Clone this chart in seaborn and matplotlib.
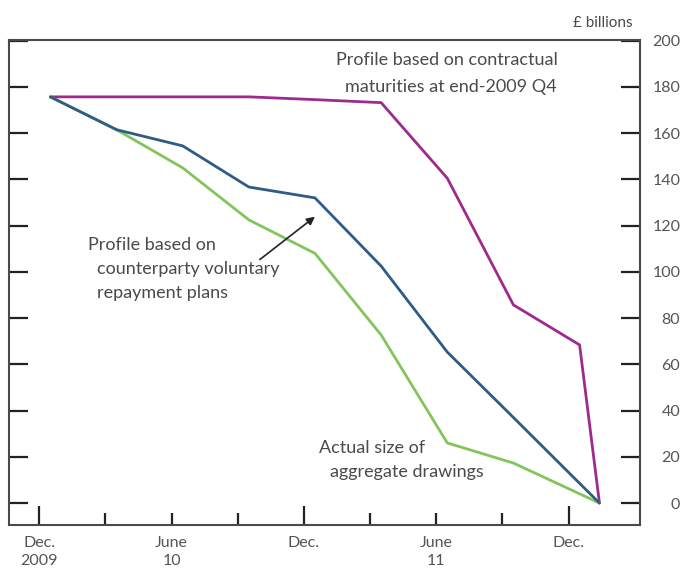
import pandas as pd
import matplotlib
matplotlib.use("Agg")
import matplotlib.pyplot as plt
import seaborn as sns
from matplotlib.ticker import FixedLocator, FixedFormatter

# Months after Dec. 2009 (quarterly points, then run-off)
months_contractual = [0.5, 3.5, 6.5, 9.5, 12.5, 15.5, 18.5, 21.5, 24.5, 25.4]
contractual = [175.7, 175.7, 175.7, 175.7, 174.5, 173.2, 140.5, 85.7, 68.4, 0]

months_other = [0.5, 3.5, 6.5, 9.5, 12.5, 15.5, 18.5, 21.5, 25.4]
voluntary = [175.7, 161.5, 154.5, 136.7, 132.0, 102.5, 65.3, 37.0, 0]
actual = [175.7, 161.5, 145.0, 122.5, 108.0, 72.7, 26.0, 17.3, 0]

x_major = [0, 12, 24]
x_major_labels = ["Dec.\n2009", "Dec.", "Dec."]
x_minor = [3, 6, 9, 15, 18, 21]
x_minor_labels = ["", "June\n10", "", "", "June\n11", ""]
y_ticks = list(range(0, 201, 20))

sns.set_style("ticks")
plt.rcParams['font.family'] = ['Lato', 'DejaVu Sans']

fig = plt.figure(figsize=(6.84, 5.77), dpi=100)
ax = fig.add_axes([0.0127, 0.0901, 0.9230, 0.8406])

# ----------------------------
# Lines
# ----------------------------
sns.lineplot(x=months_contractual, y=contractual, color='#9E2A8E', linewidth=2.0, ax=ax)
sns.lineplot(x=months_other, y=actual, color='#82C55A', linewidth=2.0, ax=ax)
sns.lineplot(x=months_other, y=voluntary, color='#2E5C86', linewidth=2.0, ax=ax)

ax.set_xlim(-1.39, 27.24)
ax.set_ylim(-9.5, 200.3)

# ----------------------------
# Axes styling
# ----------------------------
for side in ['left', 'right', 'top', 'bottom']:
    ax.spines[side].set_visible(True)
    ax.spines[side].set_color('#4a4a4a')
    ax.spines[side].set_linewidth(1.5)

ax.yaxis.set_major_locator(FixedLocator(y_ticks))
ax.yaxis.tick_right()
ax.tick_params(axis='y', which='major', direction='in', length=14, width=1.6,
               color='#222222', left=True, right=True, labelleft=False,
               labelright=True, labelsize=11.5, labelcolor='#555555', pad=29)
for lab in ax.get_yticklabels():
    lab.set_horizontalalignment('right')

ax.xaxis.set_major_locator(FixedLocator(x_major))
ax.xaxis.set_major_formatter(FixedFormatter(x_major_labels))
ax.xaxis.set_minor_locator(FixedLocator(x_minor))
ax.xaxis.set_minor_formatter(FixedFormatter(x_minor_labels))
ax.tick_params(axis='x', which='major', direction='in', length=14, width=1.6,
               color='#222222', labelsize=11.5, labelcolor='#555555', pad=8)
ax.tick_params(axis='x', which='minor', direction='in', length=9, width=1.6,
               color='#222222', labelsize=11.5, labelcolor='#555555', pad=8)
for lab in ax.get_xticklabels() + ax.get_xticklabels(minor=True):
    lab.set_linespacing(1.35)

ax.set_xlabel('')
ax.set_ylabel('')

# ----------------------------
# Annotations
# ----------------------------
txt_color = '#4a4a4a'
fig.text(0.882, 0.960, '£ billions', ha='center', va='center', fontsize=11, color=txt_color)

ax.text(23.52, 191.7, 'Profile based on contractual', ha='right', va='center',
        fontsize=13, color=txt_color)
ax.text(23.48, 180.0, 'maturities at end-2009 Q4', ha='right', va='center',
        fontsize=13, color=txt_color)

ax.text(2.2, 111.5, 'Profile based on', ha='left', va='center', fontsize=13, color=txt_color)
ax.text(2.6, 101.2, 'counterparty voluntary', ha='left', va='center', fontsize=13, color=txt_color)
ax.text(2.6, 90.8, 'repayment plans', ha='left', va='center', fontsize=13, color=txt_color)

ax.annotate('', xy=(12.6, 124.6), xytext=(9.9, 104.6),
            arrowprops=dict(arrowstyle='-|>', color='#222222', lw=1.2, mutation_scale=12))

ax.text(12.7, 23.8, 'Actual size of', ha='left', va='center', fontsize=13, color=txt_color)
ax.text(13.2, 13.4, 'aggregate drawings', ha='left', va='center', fontsize=13, color=txt_color)

fig.savefig('out.png', dpi=100)
